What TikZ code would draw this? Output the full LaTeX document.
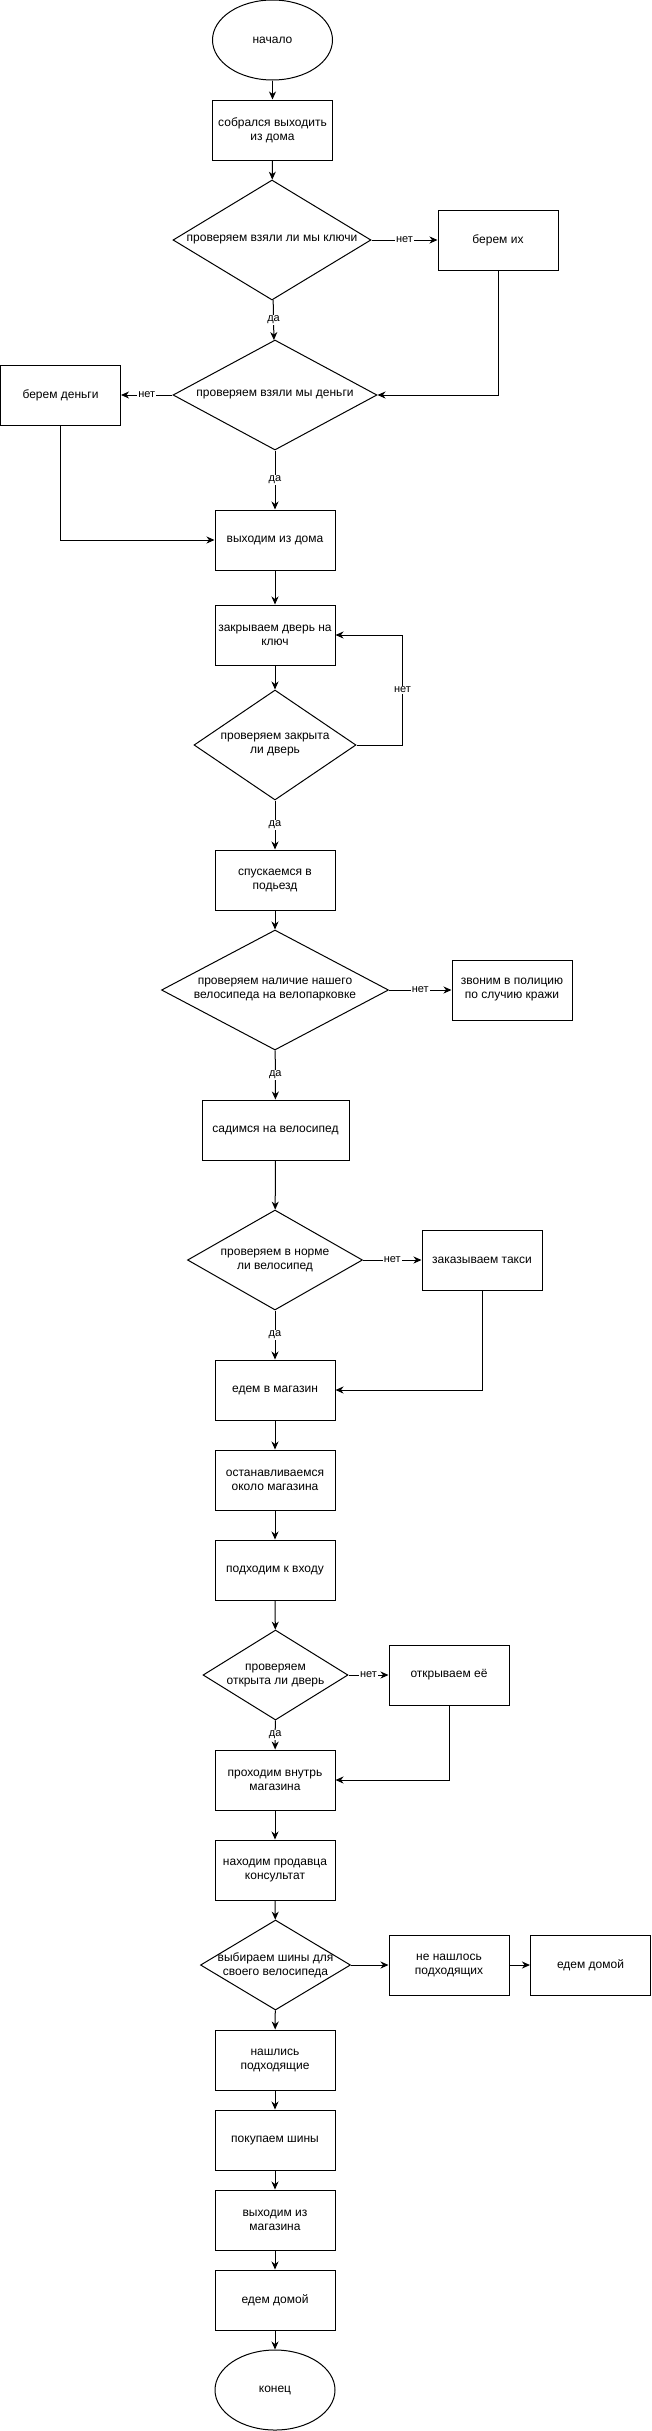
\documentclass[tikz,border=0pt]{standalone}
\usepackage{fontspec}
\setmainfont{Liberation Sans}
\usetikzlibrary{shapes.geometric,arrows.meta}

\begin{document}
\begin{tikzpicture}[x=1pt,y=-1pt,
proc/.style = {rectangle, draw, fill=white, line width=1pt,
     minimum width=120pt, minimum height=60pt, inner sep=2pt,
     align=center, font=\fontsize{12}{14}\selectfont},
term/.style = {ellipse, draw, fill=white, line width=1pt,
     minimum width=120pt, minimum height=80pt, inner sep=0pt,
     font=\fontsize{12}{14}\selectfont},
decis/.style = {diamond, draw, fill=white, line width=1pt, inner sep=0pt},
dtext/.style = {align=center, inner sep=0pt, font=\fontsize{12}{14}\selectfont},
arr/.style = {-{Stealth[length=8pt,width=7pt,inset=2.5pt]}, line width=1pt},
elbl/.style = {fill=white, inner sep=1pt, font=\fontsize{11}{13}\selectfont}]

\useasboundingbox (0,0) rectangle (651,2431);

\node[term] (start) at (272.5,40) {начало};
\node[proc] (leave) at (272.5,130) {собрался выходить\\из дома};
\node[decis, minimum width=198pt, minimum height=120pt,
      label={[dtext]center:проверяем взяли ли мы ключи}] (chk-keys) at (272,240) {};
\node[proc] (take-keys) at (498,240) {берем их};
\node[decis, minimum width=204pt, minimum height=110pt,
      label={[dtext]center:проверяем взяли мы деньги}] (chk-money) at (275,395) {};
\node[proc] (take-money) at (60.5,395) {берем деньги};
\node[proc] (exit-home) at (275,540) {выходим из дома};
\node[proc] (lock) at (275,635) {закрываем дверь на\\ключ};
\node[decis, minimum width=162pt, minimum height=110pt,
      label={[dtext]center:{проверяем закрыта\\ли дверь}}] (chk-lock) at (275,745) {};
\node[proc] (go-down) at (275,880) {спускаемся в\\подьезд};
\node[decis, minimum width=227pt, minimum height=120pt,
      label={[dtext]center:{проверяем наличие нашего\\велосипеда на велопарковке}}] (chk-bike) at (275,990) {};
\node[proc] (police) at (512,990) {звоним в полицию\\по случию кражи};
\node[proc, minimum width=147pt] (ride) at (275.5,1130) {садимся на велосипед};
\node[decis, minimum width=175pt, minimum height=100pt,
      label={[dtext]center:{проверяем в норме\\ли велосипед}}] (chk-ok) at (275,1260) {};
\node[proc] (taxi) at (482,1260) {заказываем такси};
\node[proc] (to-shop) at (275,1390) {едем в магазин};
\node[proc] (stop) at (275,1480) {останавливаемся\\около магазина};
\node[proc] (approach) at (275,1570) {подходим к входу};
\node[decis, minimum width=145pt, minimum height=90pt,
      label={[dtext]center:{проверяем\\открыта ли дверь}}] (chk-door) at (275.5,1675) {};
\node[proc] (open) at (449,1675) {открываем её};
\node[proc] (inside) at (275,1780) {проходим внутрь\\магазина};
\node[proc] (seller) at (275,1870) {находим продавца\\консультат};
\node[decis, minimum width=150pt, minimum height=90pt,
      label={[dtext]center:{выбираем шины для\\своего велосипеда}}] (chk-tires) at (275.5,1965) {};
\node[proc] (none) at (449,1965) {не нашлось\\подходящих};
\node[proc] (home-a) at (590.5,1965) {едем домой};
\node[proc] (found) at (275,2060) {нашлись\\подходящие};
\node[proc] (buy) at (275,2140) {покупаем шины};
\node[proc] (leave-shop) at (275,2220) {выходим из\\магазина};
\node[proc] (home-b) at (275,2300) {едем домой};
\node[term] (finish) at (275,2390) {конец};

\draw[arr] (start) -- (leave);
\draw[arr] (leave) -- (chk-keys);
\draw[arr] (chk-keys) -- node[elbl]{нет} (take-keys);
\draw[arr] (chk-keys) -- node[elbl]{да} (chk-money);
\draw[arr] (take-keys.south) |- (chk-money.east);
\draw[arr] (chk-money) -- node[elbl]{нет} (take-money);
\draw[arr] (chk-money) -- node[elbl]{да} (exit-home);
\draw[arr] (take-money.south) |- (exit-home.west);
\draw[arr] (exit-home) -- (lock);
\draw[arr] (lock) -- (chk-lock);
\draw[arr] (chk-lock.east) -- ++(46,0) |- node[elbl,pos=0.25]{нет} (lock.east);
\draw[arr] (chk-lock) -- node[elbl]{да} (go-down);
\draw[arr] (go-down) -- (chk-bike);
\draw[arr] (chk-bike) -- node[elbl]{нет} (police);
\draw[arr] (chk-bike) -- node[elbl]{да} (ride);
\draw[arr] (ride) -- (chk-ok);
\draw[arr] (chk-ok) -- node[elbl]{нет} (taxi);
\draw[arr] (chk-ok) -- node[elbl]{да} (to-shop);
\draw[arr] (taxi.south) |- (to-shop.east);
\draw[arr] (to-shop) -- (stop);
\draw[arr] (stop) -- (approach);
\draw[arr] (approach) -- (chk-door);
\draw[arr] (chk-door) -- node[elbl]{нет} (open);
\draw[arr] (chk-door) -- node[elbl]{да} (inside);
\draw[arr] (open.south) |- (inside.east);
\draw[arr] (chk-tires) -- (none);
\draw[arr] (none) -- (home-a);
\foreach \a/\b in {inside/seller,seller/chk-tires,chk-tires/found,found/buy,buy/leave-shop,leave-shop/home-b,home-b/finish}
  \draw[arr] (\a) -- (\b);

\end{tikzpicture}
\end{document}
